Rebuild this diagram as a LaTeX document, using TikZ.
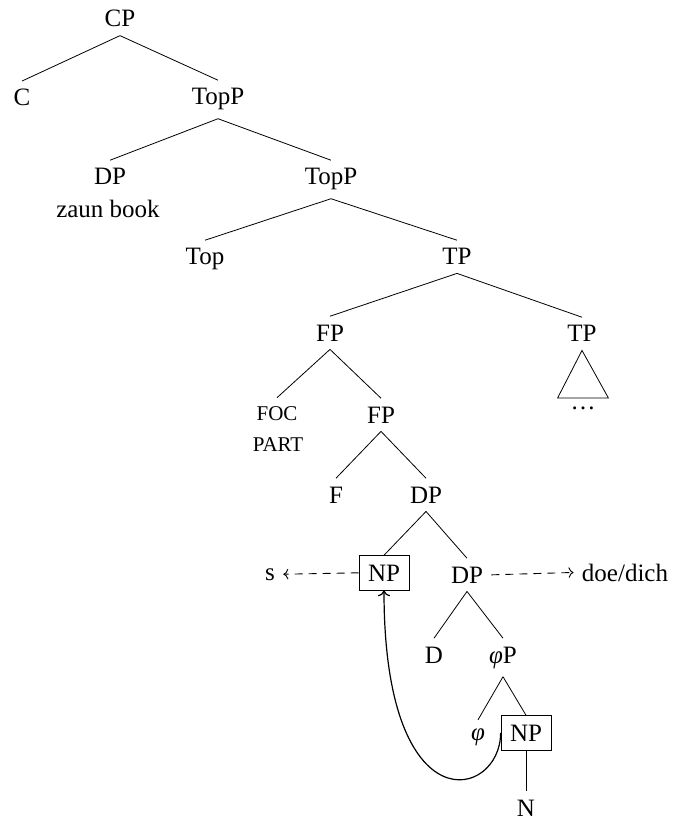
\documentclass[tikz,border=0pt]{standalone}
\usepackage{fontspec}
\setmainfont{Liberation Serif}
\usetikzlibrary{arrows.meta}

\begin{document}
\begin{tikzpicture}[
  x=0.5pt, y=0.5pt,
  font=\fontsize{12.5}{15}\selectfont,
  cat/.style={anchor=base, inner sep=4pt},
  feat/.style={anchor=base, inner sep=4pt, font=\fontsize{10.5}{12}\selectfont},
  box/.style={cat, draw, inner sep=4.5pt},
  branch/.style={line width=0.4pt},
  agree/.style={line width=0.45pt, dash pattern=on 4pt off 3pt, -{To[length=2.5pt]}},
  move/.style={semithick, -{To}},
]
\useasboundingbox (0,0) rectangle (673,-823);

% left spine
\node[cat] (cp) at (120, -27) {CP};
\node[cat] (c) at (22, -106) {C};
\node[cat] (topp1) at (218, -105) {TopP};
\node[cat] (dp1) at (110, -185) {DP};
\node[cat] (zb) at (108, -218) {zaun book};
\node[cat] (topp2) at (331, -185) {TopP};
\node[cat] (top) at (205, -265) {Top};
\node[cat] (tp1) at (457, -265) {TP};
\node[cat] (fp1) at (330, -341) {FP};
\node[cat] (tp2) at (582, -342) {TP};
\node[cat, minimum width=25pt] (dots) at (583, -409) {\dots};
\node[feat] (foc) at (277, -420) {FOC};
\node[feat] (part) at (278, -451) {PART};
\node[cat] (fp2) at (381, -423) {FP};
\node[cat] (f) at (336, -503) {F};
\node[cat] (dp2) at (426, -503) {DP};

% lower DP
\node[box] (npa) at (384, -581) {NP};
\node[cat] (s) at (270, -580) {s};
\node[cat] (dp3) at (467, -583) {DP};
\node[cat] (doe) at (625, -581) {doe/dich};
\node[cat] (d) at (434, -663) {D};
\node[cat] (phip) at (503, -663) {\textit{φ}P};
\node[cat] (phi) at (478, -740) {\textit{φ}};
\node[box] (npb) at (526, -741) {NP};
\node[cat] (n) at (526, -816) {N};

\draw[branch] (cp.south) -- (c.north);
\draw[branch] (cp.south) -- (topp1.north);
\draw[branch] (topp1.south) -- (dp1.north);
\draw[branch] (topp1.south) -- (topp2.north);
\draw[branch] (topp2.south) -- (top.north);
\draw[branch] (topp2.south) -- (tp1.north);
\draw[branch] (tp1.south) -- (fp1.north);
\draw[branch] (tp1.south) -- (tp2.north);
\draw[branch] (tp2.south) -- (dots.north west) -- (dots.north east) -- cycle;
\draw[branch] (fp1.south) -- (foc.north);
\draw[branch] (fp1.south) -- (fp2.north);
\draw[branch] (fp2.south) -- (f.north);
\draw[branch] (fp2.south) -- (dp2.north);
\draw[branch] (dp2.south) -- (npa.north);
\draw[branch] (dp2.south) -- (dp3.north);
\draw[branch] (dp3.south) -- (d.north);
\draw[branch] (dp3.south) -- (phip.north);
\draw[branch] (phip.south) -- (phi.north);
\draw[branch] (phip.south) -- (npb.north);
\draw[branch] (npb.south) -- (n.north);

% agreement and movement
\draw[agree] (npa.west) -- (s.east);
\draw[agree] (dp3.east) -- (doe.west);
\draw[move] (npb.west) to[out=-90, in=-90, out distance=33pt, in distance=119pt] (npa.south);

\end{tikzpicture}
\end{document}
